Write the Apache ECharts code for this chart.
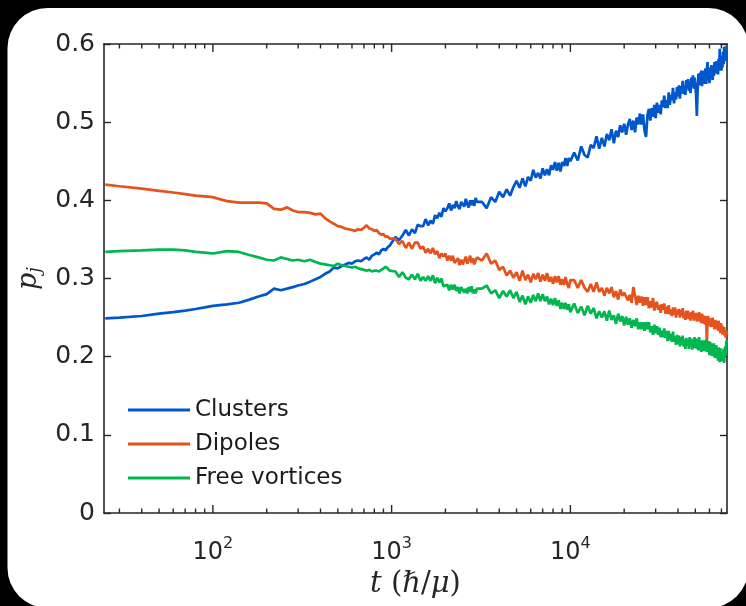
<!DOCTYPE html>
<html>
<head>
<meta charset="utf-8">
<script src="https://cdn.jsdelivr.net/npm/echarts@6/dist/echarts.min.js"></script>
<style>
  html, body { margin: 0; padding: 0; background: #000; }
  #chart { width: 746px; height: 606px; }
</style>
</head>
<body>
<div id="chart"></div>
<script>
// Sampling times t (in units of hbar/mu), listed per stretch of the run
const timesEarly = [25, 30, 40, 50, 60, 70, 80, 90, 100, 120, 140, 160, 180, 200, 220, 240, 260, 280, 300];
const timesMid = [325, 350, 375, 400, 425, 450, 475, 500, 525, 550, 575, 600, 625, 650, 675, 700, 725, 750, 775, 800,
  825, 850, 875, 900, 925, 950, 975, 1000];
const timesLate = [1050, 1100, 1150, 1200, 1250, 1300, 1350, 1400, 1450, 1500, 1550, 1600, 1650, 1700, 1750, 1800,
  1850, 1900, 1950, 2000, 2050, 2100, 2150, 2200, 2250, 2300, 2350, 2400, 2450, 2500, 2550, 2600, 2650, 2700, 2750,
  2800, 2850, 2900, 2950, 3000];
const timesLater = [3200, 3400, 3600, 3800, 4000, 4200, 4400, 4600, 4800, 5000, 5200, 5400, 5600, 5800, 6000, 6200,
  6400, 6600, 6800, 7000, 7200, 7400, 7600, 7800, 8000, 8200, 8400, 8600, 8800, 9000, 9200, 9400, 9600, 9800, 10000];
const timesLast = [
  10500, 11000, 11500, 12000, 12500, 13000, 13500, 14000, 14500, 15000,
  15500, 16000, 16500, 17000, 17500, 18000, 18500, 19000, 19500, 20000,
  20500, 21000, 21500, 22000, 22500, 23000, 23500, 24000, 24500, 25000,
  25500, 26000, 26500, 27000, 27500, 28000, 28500, 29000, 29500, 30000,
  30500, 31000, 31500, 32000, 32500, 33000, 33500, 34000, 34500, 35000,
  35500, 36000, 36500, 37000, 37500, 38000, 38500, 39000, 39500, 40000,
  40500, 41000, 41500, 42000, 42500, 43000, 43500, 44000, 44500, 45000,
  45500, 46000, 46500, 47000, 47500, 48000, 48500, 49000, 49500, 50000,
  50500, 51000, 51500, 52000, 52500, 53000, 53500, 54000, 54500, 55000,
  55500, 56000, 56500, 57000, 57500, 58000, 58500, 59000, 59500, 60000,
  60500, 61000, 61500, 62000, 62500, 63000, 63500, 64000, 64500, 65000,
  65500, 66000, 66500, 67000, 67500, 68000, 68500, 69000, 69500, 70000,
  70500, 71000, 71500, 72000, 72500, 73000, 73500, 74000, 74500, 75000];
const times = [...timesEarly, ...timesMid, ...timesLate, ...timesLater, ...timesLast];

// Fraction of vortices in clusters
const clusters = [
  0.249, 0.250, 0.252, 0.255, 0.257, 0.259, 0.261, 0.263, 0.265, 0.267, 0.269, 0.273, 0.277, 0.280, 0.287, 0.285, 0.287, 0.289, 0.291,
  0.293, 0.296, 0.299, 0.302, 0.306, 0.309, 0.314, 0.313, 0.316, 0.318, 0.320, 0.319, 0.322, 0.323, 0.322, 0.325, 0.327, 0.324, 0.329, 0.331,
  0.333, 0.331, 0.336, 0.338, 0.336, 0.340, 0.342, 0.341,
  0.353, 0.349, 0.355, 0.362, 0.355, 0.363, 0.358, 0.369, 0.367, 0.367, 0.376, 0.368, 0.374, 0.370, 0.381, 0.377, 0.384, 0.379, 0.390, 0.386,
  0.390, 0.396, 0.387, 0.394, 0.390, 0.399, 0.392, 0.389, 0.398, 0.397, 0.392, 0.402, 0.395, 0.391, 0.400, 0.394, 0.400, 0.393, 0.403, 0.398,
  0.398, 0.390, 0.404, 0.398, 0.411, 0.404, 0.414, 0.406, 0.417, 0.425, 0.416, 0.428, 0.418, 0.430, 0.425, 0.439, 0.429, 0.435, 0.428, 0.441,
  0.432, 0.440, 0.432, 0.445, 0.439, 0.449, 0.438, 0.448, 0.437, 0.449, 0.444, 0.454, 0.444, 0.454, 0.450,
  0.461, 0.451, 0.469, 0.458, 0.455, 0.471, 0.467, 0.482, 0.466, 0.480,
  0.469, 0.485, 0.477, 0.491, 0.473, 0.489, 0.481, 0.496, 0.487, 0.498,
  0.484, 0.497, 0.504, 0.490, 0.502, 0.487, 0.506, 0.497, 0.511, 0.497,
  0.510, 0.489, 0.481, 0.509, 0.517, 0.502, 0.518, 0.507, 0.522, 0.505,
  0.525, 0.512, 0.522, 0.510, 0.528, 0.519, 0.534, 0.518, 0.528, 0.518,
  0.538, 0.522, 0.535, 0.528, 0.544, 0.524, 0.538, 0.529, 0.545, 0.533,
  0.547, 0.530, 0.546, 0.537, 0.553, 0.536, 0.546, 0.535, 0.554, 0.543,
  0.555, 0.540, 0.552, 0.537, 0.557, 0.547, 0.560, 0.543, 0.557, 0.548,
  0.535, 0.508, 0.540, 0.562, 0.547, 0.563, 0.549, 0.566, 0.546, 0.561,
  0.549, 0.566, 0.553, 0.569, 0.549, 0.564, 0.577, 0.553, 0.568, 0.550,
  0.570, 0.556, 0.573, 0.560, 0.554, 0.571, 0.559, 0.577, 0.562, 0.568,
  0.578, 0.563, 0.576, 0.561, 0.581, 0.566, 0.594, 0.568, 0.585, 0.566,
  0.582, 0.570, 0.590, 0.574, 0.596, 0.580, 0.597, 0.578, 0.591, 0.580];

// Fraction of vortices bound in dipoles
const dipoles = [
  0.420, 0.418, 0.415, 0.412, 0.410, 0.408, 0.406, 0.405, 0.404, 0.399, 0.397, 0.397, 0.397, 0.396, 0.389, 0.388, 0.391, 0.387, 0.385,
  0.385, 0.384, 0.382, 0.383, 0.377, 0.373, 0.370, 0.367, 0.366, 0.364, 0.363, 0.362, 0.361, 0.363, 0.362, 0.365, 0.368, 0.364, 0.363, 0.361,
  0.362, 0.358, 0.356, 0.357, 0.353, 0.354, 0.351, 0.350,
  0.351, 0.344, 0.348, 0.339, 0.346, 0.338, 0.346, 0.346, 0.338, 0.341, 0.333, 0.338, 0.332, 0.339, 0.331, 0.335, 0.326, 0.332, 0.328, 0.332,
  0.323, 0.329, 0.323, 0.329, 0.320, 0.323, 0.326, 0.317, 0.324, 0.318, 0.323, 0.328, 0.319, 0.324, 0.329, 0.320, 0.326, 0.318, 0.323, 0.327,
  0.323, 0.332, 0.319, 0.323, 0.311, 0.315, 0.304, 0.310, 0.301, 0.308, 0.297, 0.310, 0.298, 0.305, 0.295, 0.306, 0.299, 0.307, 0.296, 0.305,
  0.297, 0.307, 0.296, 0.302, 0.293, 0.303, 0.295, 0.303, 0.292, 0.299, 0.292, 0.302, 0.293, 0.288, 0.298,
  0.298, 0.288, 0.298, 0.288, 0.283, 0.293, 0.283, 0.295, 0.283, 0.288,
  0.278, 0.288, 0.281, 0.289, 0.276, 0.284, 0.273, 0.286, 0.278, 0.282,
  0.283, 0.272, 0.279, 0.269, 0.289, 0.278, 0.266, 0.278, 0.269, 0.277,
  0.265, 0.276, 0.266, 0.276, 0.262, 0.271, 0.263, 0.275, 0.259, 0.267,
  0.270, 0.260, 0.266, 0.256, 0.267, 0.260, 0.268, 0.255, 0.264, 0.255,
  0.266, 0.254, 0.260, 0.252, 0.263, 0.254, 0.263, 0.250, 0.260, 0.254,
  0.261, 0.250, 0.259, 0.252, 0.262, 0.249, 0.256, 0.247, 0.259, 0.249,
  0.259, 0.248, 0.256, 0.246, 0.257, 0.250, 0.259, 0.246, 0.256, 0.248,
  0.256, 0.245, 0.254, 0.246, 0.257, 0.245, 0.252, 0.243, 0.255, 0.247,
  0.253, 0.242, 0.250, 0.241, 0.252, 0.218, 0.246, 0.252, 0.240, 0.249,
  0.248, 0.238, 0.249, 0.240, 0.250, 0.238, 0.245, 0.235, 0.247, 0.239,
  0.246, 0.236, 0.244, 0.233, 0.246, 0.235, 0.241, 0.230, 0.243, 0.234,
  0.240, 0.228, 0.238, 0.234, 0.238, 0.227, 0.234, 0.224, 0.233, 0.228];

// Fraction of free (unpaired) vortices
const freeVortices = [
  0.334, 0.335, 0.336, 0.337, 0.337, 0.336, 0.334, 0.333, 0.332, 0.335, 0.334, 0.330, 0.327, 0.324, 0.323, 0.327, 0.325, 0.323, 0.324,
  0.322, 0.324, 0.321, 0.319, 0.318, 0.317, 0.316, 0.319, 0.317, 0.316, 0.315, 0.314, 0.315, 0.313, 0.312, 0.311, 0.310, 0.311, 0.309, 0.310,
  0.310, 0.309, 0.311, 0.313, 0.315, 0.313, 0.310, 0.309,
  0.309, 0.302, 0.308, 0.301, 0.299, 0.305, 0.299, 0.306, 0.297, 0.302, 0.297, 0.303, 0.297, 0.304, 0.294, 0.301, 0.295, 0.300, 0.290, 0.288,
  0.292, 0.285, 0.292, 0.286, 0.292, 0.284, 0.289, 0.281, 0.289, 0.290, 0.282, 0.287, 0.281, 0.289, 0.283, 0.290, 0.281, 0.286, 0.281, 0.287,
  0.287, 0.291, 0.281, 0.285, 0.275, 0.284, 0.277, 0.285, 0.275, 0.283, 0.270, 0.278, 0.267, 0.277, 0.269, 0.279, 0.271, 0.281, 0.271, 0.280,
  0.271, 0.277, 0.267, 0.274, 0.266, 0.275, 0.265, 0.272, 0.261, 0.269, 0.261, 0.269, 0.260, 0.267, 0.257,
  0.268, 0.256, 0.264, 0.253, 0.265, 0.255, 0.262, 0.249, 0.258, 0.250,
  0.258, 0.246, 0.259, 0.247, 0.253, 0.242, 0.255, 0.245, 0.252, 0.240,
  0.251, 0.241, 0.249, 0.237, 0.247, 0.239, 0.249, 0.235, 0.244, 0.235,
  0.244, 0.233, 0.244, 0.235, 0.244, 0.231, 0.239, 0.228, 0.241, 0.230,
  0.239, 0.228, 0.237, 0.225, 0.233, 0.225, 0.236, 0.224, 0.233, 0.220,
  0.233, 0.221, 0.229, 0.219, 0.232, 0.219, 0.226, 0.215, 0.228, 0.216,
  0.227, 0.213, 0.225, 0.215, 0.227, 0.213, 0.221, 0.210, 0.224, 0.214,
  0.222, 0.210, 0.225, 0.213, 0.223, 0.209, 0.221, 0.211, 0.225, 0.211,
  0.223, 0.210, 0.220, 0.208, 0.225, 0.211, 0.218, 0.206, 0.221, 0.211,
  0.221, 0.207, 0.219, 0.210, 0.222, 0.206, 0.216, 0.206, 0.220, 0.202,
  0.219, 0.204, 0.217, 0.201, 0.214, 0.204, 0.217, 0.199, 0.214, 0.198,
  0.215, 0.199, 0.210, 0.195, 0.212, 0.200, 0.193, 0.211, 0.197, 0.205,
  0.194, 0.206, 0.199, 0.210, 0.192, 0.207, 0.213, 0.201, 0.218, 0.222];

const seriesNames = ['Clusters', 'Dipoles', 'Free vortices'];
const seriesColors = ['#0057cc', '#e5521b', '#00b64f'];

// Axis ranges and tick positions
const tMin = 24.6;
const tMax = 75200;
const xMajorTicks = [100, 1000, 10000];
const xMinorTicks = [30, 40, 50, 60, 70, 80, 90, 200, 300, 400, 500, 600, 700, 800, 900,
  2000, 3000, 4000, 5000, 6000, 7000, 8000, 9000, 20000, 30000, 40000, 50000, 60000, 70000];
const pMin = 0, pMax = 0.6, pStep = 0.1;

const ink = '#262626';
const sansFont = "'DejaVu Sans', 'Liberation Sans', Arial, sans-serif";
const serifFont = "'DejaVu Serif', 'Liberation Serif', serif";

function logAxis(position, withLabels) {
  const ax = {
    type: 'log', logBase: 10, min: tMin, max: tMax, position: position,
    axisLine: { show: true, onZero: false, lineStyle: { color: ink, width: 1.6 } },
    axisTick: { show: false },
    axisLabel: { show: false },
    splitLine: { show: false },
    minorTick: { show: false }
  };
  if (withLabels) {
    ax.axisLabel = {
      show: true, customValues: xMajorTicks, margin: 23,
      formatter: v => '{b|10}{s|' + Math.round(Math.log10(v)) + '}',
      rich: {
        b: { fontFamily: sansFont, fontSize: 24, color: ink, lineHeight: 34 },
        s: { fontFamily: sansFont, fontSize: 16, color: ink, lineHeight: 16, verticalAlign: 'top' }
      }
    };
    ax.name = 't {u|(}ℏ{u|/}μ{u|)}';
    ax.nameLocation = 'middle';
    ax.nameGap = 50;
    ax.nameTextStyle = {
      fontFamily: serifFont, fontStyle: 'italic', fontSize: 29, color: ink,
      rich: { u: { fontFamily: serifFont, fontStyle: 'normal', fontSize: 29, color: ink } }
    };
  }
  return ax;
}

function valueAxis(position, withLabels) {
  const ax = {
    type: 'value', min: pMin, max: pMax, interval: pStep, position: position,
    axisLine: { show: true, onZero: false, lineStyle: { color: ink, width: 1.6 } },
    axisTick: { show: true, inside: true, length: 7, lineStyle: { color: ink, width: 1.4 } },
    axisLabel: { show: false },
    splitLine: { show: false }
  };
  if (withLabels) {
    ax.axisLabel = {
      show: true, margin: 9, fontFamily: sansFont, fontSize: 25, color: ink,
      formatter: v => (v === 0 ? '0' : v.toFixed(1))
    };
    ax.name = '{p|p}{j|j}';
    ax.nameLocation = 'middle';
    ax.nameRotate = 90;
    ax.nameGap = 58;
    ax.nameTextStyle = {
      rich: {
        p: { fontFamily: serifFont, fontStyle: 'italic', fontSize: 27, color: ink, lineHeight: 30 },
        j: { fontFamily: serifFont, fontStyle: 'italic', fontSize: 18, color: ink, lineHeight: 18, verticalAlign: 'bottom' }
      }
    };
  }
  return ax;
}

// Log-axis tick marks: thin bars standing inward from the bottom edge and hanging from the top edge
function tickSeries(values, len, edge) {
  const atBottom = edge === 'bottom';
  return {
    type: 'scatter',
    xAxisIndex: 0, yAxisIndex: 0,
    silent: true,
    clip: false,
    z: 5,
    symbol: 'rect',
    symbolSize: [1.4, len],
    symbolOffset: [0, atBottom ? -len / 2 : len / 2],
    itemStyle: { color: ink, opacity: 1 },
    emphasis: { disabled: true },
    data: values.map(t => [t, atBottom ? pMin : pMax])
  };
}

const seriesValues = [clusters, dipoles, freeVortices];

const chart = echarts.init(document.getElementById('chart'), null, { renderer: 'canvas' });
chart.setOption({
  animation: false,
  backgroundColor: '#000',
  graphic: [{
    type: 'rect', z: -100, silent: true,
    shape: { x: 7.5, y: 8, width: 741, height: 600, r: 40 },
    style: { fill: '#fff' }
  }],
  grid: { left: 104, top: 44, width: 623, height: 469, containLabel: false },
  xAxis: [
    logAxis('bottom', true),
    logAxis('top', false)
  ],
  yAxis: [
    valueAxis('left', true),
    valueAxis('right', false)
  ],
  legend: {
    data: seriesNames,
    orient: 'vertical', left: 123, top: 393,
    itemWidth: 62, itemHeight: 3, itemGap: 10, icon: 'rect',
    textStyle: { fontFamily: sansFont, fontSize: 23, color: '#1a1a1a', lineHeight: 24 }
  },
  series: seriesNames.map((name, k) => ({
    name: name,
    type: 'line',
    xAxisIndex: 0, yAxisIndex: 0,
    showSymbol: false,
    symbol: 'none',
    color: seriesColors[k],
    lineStyle: { color: seriesColors[k], width: 2.7 },
    data: times.map((t, i) => [t, seriesValues[k][i]])
  })).concat([
    tickSeries(xMajorTicks, 8, 'bottom'),
    tickSeries(xMajorTicks, 8, 'top'),
    tickSeries(xMinorTicks, 4.5, 'bottom'),
    tickSeries(xMinorTicks, 4.5, 'top')
  ])
});
</script>
</body>
</html>
